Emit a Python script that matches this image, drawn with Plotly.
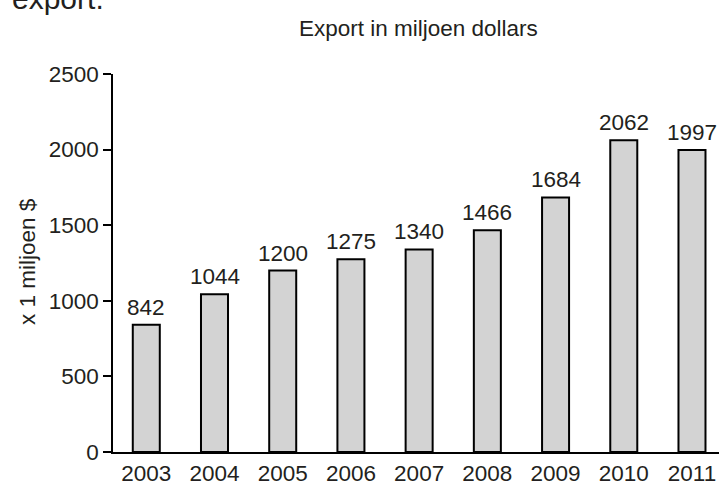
import plotly.graph_objects as go

years = ["2003", "2004", "2005", "2006", "2007", "2008", "2009", "2010", "2011"]
export_values = [842, 1044, 1200, 1275, 1340, 1466, 1684, 2062, 1997]
y_ticks = [0, 500, 1000, 1500, 2000, 2500]

FONT = "Liberation Sans, Arial, sans-serif"
TXT = "#231f20"
FS = 22.5

xs = list(range(len(years)))

fig = go.Figure(go.Bar(
    x=xs,
    y=export_values,
    marker=dict(color="#d3d3d3", line=dict(color="black", width=2)),
    width=0.396,
    hoverinfo="x+y",
))

annotations = [
    dict(x=x, y=v, xref="x", yref="y", text=str(v), showarrow=False,
         xanchor="center", yanchor="bottom", yshift=3,
         font=dict(size=FS, color=TXT, family=FONT))
    for x, v in zip(xs, export_values)
]
annotations += [
    dict(text="Export in miljoen dollars", xref="paper", yref="paper",
         x=(418 - 113) / 606, y=(456 - 28) / 382, xanchor="center", yanchor="middle",
         showarrow=False, font=dict(size=FS, color=TXT, family=FONT)),
    dict(text="x 1 miljoen $", xref="paper", yref="paper",
         x=(27 - 113) / 606, y=(456 - 264) / 382, xanchor="center", yanchor="middle",
         textangle=-90,
         showarrow=False, font=dict(size=FS, color=TXT, family=FONT)),
    dict(text="export.", xref="paper", yref="paper",
         x=(10 - 113) / 606, y=(456 - 16) / 382, xanchor="left", yanchor="bottom",
         showarrow=False, font=dict(size=30, color=TXT, family=FONT)),
]

fig.update_layout(
    width=719, height=486,
    margin=dict(l=113, r=0, t=74, b=30),
    paper_bgcolor="white", plot_bgcolor="white",
    showlegend=False,
    font=dict(family=FONT, color=TXT),
    xaxis=dict(
        range=[-0.488, 8.396],
        tickmode="array", tickvals=xs, ticktext=years,
        showgrid=False, zeroline=False,
        showline=True, linecolor="black", linewidth=2,
        ticks="", tickfont=dict(size=FS, color=TXT, family=FONT),
    ),
    yaxis=dict(
        range=[0, 2500],
        tickvals=y_ticks,
        showgrid=False, zeroline=False,
        showline=True, linecolor="black", linewidth=1.5,
        ticks="outside", ticklen=8, tickwidth=1.5, tickcolor="black",
        tickfont=dict(size=FS, color=TXT, family=FONT),
    ),
    annotations=annotations,
)

fig.write_html(
    "out.html",
    config={"displayModeBar": False},
    post_script="document.body.style.margin='0';document.body.style.padding='0';document.body.style.overflow='hidden';",
)
